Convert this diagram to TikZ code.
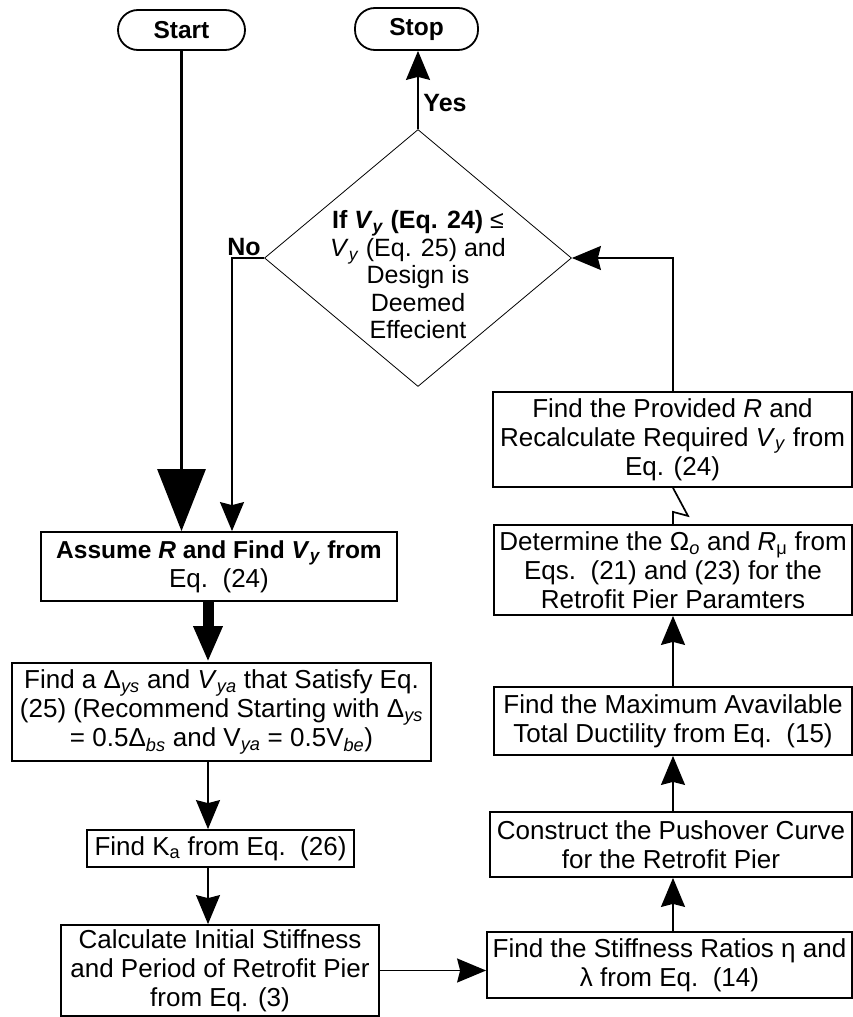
\documentclass[tikz,border=0pt]{standalone}
\usepackage{fontspec}
\setmainfont{Liberation Sans}
\usetikzlibrary{arrows.meta,shapes.geometric}
\newcommand{\sbs}[1]{\textsubscript{#1}}
\newcommand{\bsz}{\fontsize{24.5}{29}\selectfont}
\begin{document}
\begin{tikzpicture}[x=1pt,y=-1pt,
  box/.style={draw, line width=1.8pt, inner sep=0pt, align=center, font=\fontsize{26}{29}\selectfont},
  term/.style={draw, line width=1.8pt, rounded corners=20pt, inner sep=0pt, font=\fontsize{24.5}{28}\selectfont\bfseries},
  lbl/.style={inner sep=0pt, font=\fontsize{25}{28}\selectfont\bfseries},
  arr/.style={line width=1.7pt, -{Stealth[length=29pt,width=24pt,inset=3pt]}},
  bigarr/.style={line width=3pt, -{Triangle[length=62pt,width=48pt]}},
  fatarr/.style={line width=11pt, -{Triangle[length=36pt,width=27pt]}}
]
\useasboundingbox (0,0) rectangle (853,1017);
\coordinate (spine) at (208,0);
\coordinate (rspine) at (673,0);
\coordinate (nocorner) at (232,258);

% terminals
\node[term, minimum width=127pt, minimum height=40pt] (start) at (181.5,30) {Start};
\node[term, minimum width=123pt, minimum height=42pt] (stop) at (416.5,29) {Stop};

% decision
\node[draw, diamond, line width=0.8pt, minimum width=307pt, minimum height=257pt, inner sep=0pt] (dia) at (418,258) {};
\node[inner sep=0pt, align=center, font=\fontsize{25}{27.5}\selectfont] (diatext) at (418,275)
  {\textbf{If \textit{V}\sbs{\textit{y}} (Eq. 24)} ≤\\ \textit{V}\sbs{\textit{y}} (Eq. 25) and\\ Design is\\ Deemed\\ Effecient};

% left column
\node[box, minimum width=356pt, minimum height=69pt] (assume) at (219,566.5)
  {{\bsz\bfseries Assume \textit{R} and Find \textit{V}\sbs{\textit{y}} from}\\ Eq.\ \ (24)};
\node[box, minimum width=419pt, minimum height=98pt] (findD) at (221.5,712)
  {Find a Δ\sbs{\textit{ys}} and \textit{V}\sbs{\textit{ya}} that Satisfy Eq.\\ (25) (Recommend Starting with Δ\sbs{\textit{ys}}\\ = 0.5Δ\sbs{\textit{bs}} and V\sbs{\textit{ya}} = 0.5V\sbs{\textit{be}})};
\node[box, minimum width=267pt, minimum height=37pt] (ka) at (220.5,848.5)
  {Find K\sbs{a} from Eq.\ \ (26)};
\node[box, minimum width=318pt, minimum height=91pt] (calc) at (220,970.5)
  {Calculate Initial Stiffness\\ and Period of Retrofit Pier\\ from Eq. (3)};

% right column
\node[box, minimum width=359pt, minimum height=95pt] (prov) at (672.5,439.5)
  {Find the Provided \textit{R} and\\ Recalculate Required \textit{V}\sbs{\textit{y}} from\\ Eq. (24)};
\node[box, minimum width=358pt, minimum height=90pt] (det) at (673,570)
  {Determine the Ω\sbs{\textit{o}} and \textit{R}\sbs{μ} from\\ Eqs.\ \ (21) and (23) for the\\ Retrofit Pier Paramters};
\node[box, minimum width=358pt, minimum height=68pt] (maxd) at (673,721)
  {Find the Maximum Avavilable\\ Total Ductility from Eq.\ \ (15)};
\node[box, minimum width=362pt, minimum height=65pt] (push) at (671,844.5)
  {Construct the Pushover Curve\\ for the Retrofit Pier};
\node[box, minimum width=365pt, minimum height=66pt] (stiff) at (669.5,965)
  {Find the Stiffness Ratios η and\\ λ from Eq.\ \ (14)};

% labels
\node[lbl] (yes) at (445,103) {Yes};
\node[lbl] (no) at (244,247) {No};

% connectors
\draw[bigarr] (start.south) -- (start.south |- assume.north);
\draw[arr] (dia.west) -- (nocorner) -- (nocorner |- assume.north);
\draw[arr] (dia.north) -- (dia.north |- stop.south);
\draw[fatarr] (assume.south -| spine) -- (findD.north -| spine);
\draw[arr] (findD.south -| spine) -- (ka.north -| spine);
\draw[arr] (ka.south -| spine) -- (calc.north -| spine);
\draw[arr] (calc.east) -- (calc.east -| stiff.west);
\draw[arr] (stiff.north -| rspine) -- (push.south -| rspine);
\draw[arr] (push.north -| rspine) -- (maxd.south -| rspine);
\draw[arr] (maxd.north -| rspine) -- (det.south -| rspine);
\draw[line width=1.7pt] (prov.south -| rspine) -- ++(15,28) -- ++(-15,-4) -- (det.north -| rspine);
\draw[arr] (prov.north -| rspine) -- (rspine |- dia.east) -- (dia.east);
\end{tikzpicture}
\end{document}
